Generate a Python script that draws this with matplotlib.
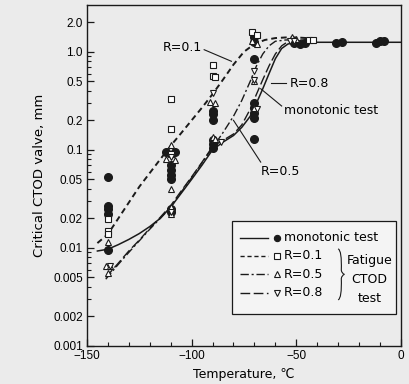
import matplotlib
matplotlib.use("Agg")
import matplotlib.pyplot as plt
from matplotlib.path import Path
from matplotlib.patches import PathPatch, Rectangle
from matplotlib.ticker import FixedLocator, FixedFormatter, NullFormatter, MultipleLocator

# ---------------- data ----------------
# monotonic test (filled circles)
mono_T = [-140, -140, -140, -140, -140,
          -112, -108, -110, -110, -110, -110, -110, -110,
          -90, -90, -90, -90, -90, -90,
          -70, -70, -70, -70, -70, -70, -70, -70,
          -51, -48, -46, -31, -28, -12, -10, -8]
mono_V = [0.053, 0.027, 0.025, 0.022, 0.0095,
          0.095, 0.095, 0.07, 0.062, 0.055, 0.05, 0.025, 0.023,
          0.25, 0.23, 0.20, 0.125, 0.115, 0.105,
          1.4, 1.25, 0.85, 0.30, 0.27, 0.24, 0.21, 0.13,
          1.22, 1.2, 1.22, 1.22, 1.25, 1.22, 1.28, 1.3]
# R=0.1 (open squares)
r01_T = [-140, -140, -140, -110, -110, -110, -90, -90, -89, -71, -69, -44, -42]
r01_V = [0.0195, 0.0148, 0.014, 0.33, 0.165, 0.09, 0.74, 0.57, 0.55, 1.6, 1.5, 1.32, 1.32]
# R=0.5 (open triangles)
r05_T = [-140, -141, -139, -140, -110, -112, -108, -110, -110, -110,
         -91, -89, -90, -89, -71, -69, -70, -70, -52, -50]
r05_V = [0.0115, 0.0066, 0.0066, 0.0055, 0.112, 0.08, 0.078, 0.04, 0.026, 0.022,
         0.31, 0.30, 0.136, 0.13, 1.3, 1.2, 0.5, 0.27, 1.4, 1.35]
# R=0.8 (open inverted triangles)
r08_T = [-139, -110, -110, -90, -86, -70, -70, -69, -53, -51]
r08_V = [0.0066, 0.085, 0.023, 0.38, 0.12, 0.63, 0.52, 0.26, 1.3, 1.3]

# fitted curves
mono_curve_T = [-145, -140, -135, -130, -125, -120, -115, -110, -105, -100, -95, -90, -85, -80,
                -76, -72, -69, -66, -63, -60, -57, -54, -51, -48, 0]
mono_curve_V = [0.0093, 0.0097, 0.0108, 0.0122, 0.014, 0.0165, 0.02, 0.026, 0.036, 0.05, 0.07,
                0.1, 0.12, 0.14, 0.17, 0.22, 0.3, 0.42, 0.6, 0.85, 1.08, 1.2, 1.24, 1.25, 1.25]
r01_curve_T = [-145, -140, -135, -130, -125, -120, -115, -110, -105, -100, -95, -90, -85, -80,
               -75, -70, -65, -60, -55, -50, -45, -42]
r01_curve_V = [0.0112, 0.0138, 0.02, 0.029, 0.042, 0.058, 0.08, 0.11, 0.148, 0.2, 0.27, 0.37,
               0.52, 0.74, 1.0, 1.2, 1.32, 1.38, 1.4, 1.4, 1.38, 1.36]
r05_curve_T = [-141, -135, -130, -125, -120, -115, -110, -105, -100, -95, -90, -85, -80, -76,
               -72, -69, -66, -63, -60, -55, -50, -42]
r05_curve_V = [0.0048, 0.0068, 0.009, 0.0118, 0.0155, 0.02, 0.026, 0.037, 0.052, 0.074, 0.105,
               0.15, 0.22, 0.32, 0.5, 0.72, 0.95, 1.15, 1.28, 1.32, 1.32, 1.32]
r08_curve_T = [-141, -135, -130, -125, -120, -115, -110, -105, -100, -95, -90, -85, -80, -76,
               -72, -69, -66, -63, -60, -57, -54, -50, -42]
r08_curve_V = [0.005, 0.007, 0.0093, 0.012, 0.0158, 0.0205, 0.027, 0.038, 0.053, 0.075, 0.108,
               0.125, 0.145, 0.18, 0.26, 0.37, 0.52, 0.72, 0.95, 1.15, 1.27, 1.3, 1.3]

y_major = [0.001, 0.002, 0.005, 0.01, 0.02, 0.05, 0.1, 0.2, 0.5, 1.0, 2.0]
y_labels = ["0.001", "0.002", "0.005", "0.01", "0.02", "0.05", "0.1", "0.2", "0.5", "1.0", "2.0"]
x_major = [-150, -100, -50, 0]
x_labels = ["\u2212150", "\u2212100", "\u221250", "0"]

# ---------------- figure ----------------
bg = "#ebebeb"
fig = plt.figure(figsize=(4.1, 3.84), dpi=100)
fig.patch.set_facecolor(bg)
ax = fig.add_axes([0.212, 0.099, 0.766, 0.888])
ax.set_facecolor(bg)
ax.set_yscale("log")
ax.set_xlim(-150, 0)
ax.set_ylim(0.001, 3.0)

k = "#1a1a1a"
ax.plot(mono_curve_T, mono_curve_V, color=k, lw=1.1, ls="-")
ax.plot(r01_curve_T, r01_curve_V, color=k, lw=1.4, ls=(0, (3, 2)))
ax.plot(r05_curve_T, r05_curve_V, color=k, lw=1.0, ls=(0, (6, 2, 1.5, 2)))
ax.plot(r08_curve_T, r08_curve_V, color=k, lw=1.0, ls=(0, (7, 2.5)))

ax.plot(mono_T, mono_V, ls="none", marker="o", ms=5.5, mfc=k, mec=k)
ax.plot(r01_T, r01_V, ls="none", marker="s", ms=4.5, mfc="white", mec=k, mew=0.8)
ax.plot(r05_T, r05_V, ls="none", marker="^", ms=5, mfc="white", mec=k, mew=0.8)
ax.plot(r08_T, r08_V, ls="none", marker="v", ms=5, mfc="white", mec=k, mew=0.8)

# ticks
ax.yaxis.set_major_locator(FixedLocator(y_major))
ax.yaxis.set_major_formatter(FixedFormatter(y_labels))
minors = []
for d in [0.001, 0.01, 0.1, 1.0]:
    for m in [3, 4, 6, 7, 8, 9]:
        if d * m < 3.0:
            minors.append(d * m)
ax.yaxis.set_minor_locator(FixedLocator(minors))
ax.yaxis.set_minor_formatter(NullFormatter())
ax.xaxis.set_major_locator(FixedLocator(x_major))
ax.xaxis.set_major_formatter(FixedFormatter(x_labels))
ax.xaxis.set_minor_locator(MultipleLocator(10))
ax.tick_params(which="both", direction="in", top=False, right=False, color=k)
ax.tick_params(which="major", length=5, width=0.9, labelsize=8.5, pad=3)
ax.tick_params(which="minor", length=3, width=0.8)
for lab in ax.get_xticklabels() + ax.get_yticklabels():
    lab.set_fontfamily("Liberation Sans")
for s in ax.spines.values():
    s.set_linewidth(1.0)
    s.set_color(k)

fam = ["DejaVu Sans", "Noto Sans CJK JP"]
fs = 9
ax.set_ylabel("Critical CTOD valve, mm", fontsize=9.5, family=fam, labelpad=5)
ax.set_xlabel("Temperature, \u2103", fontsize=9, family=fam, labelpad=4)

# annotations
ax.text(-95, 1.1, "R=0.1", fontsize=fs, family=fam, ha="right", va="center")
ax.plot([-94, -81], [1.05, 0.8], color=k, lw=0.8)
ax.text(-53, 0.48, "R=0.8", fontsize=fs, family=fam, ha="left", va="center")
ax.plot([-62, -55], [0.48, 0.48], color=k, lw=0.8)
ax.text(-56, 0.25, "monotonic test", fontsize=fs, family=fam, ha="left", va="center")
ax.plot([-67, -57], [0.42, 0.28], color=k, lw=0.8)
ax.text(-67, 0.06, "R=0.5", fontsize=fs, family=fam, ha="left", va="center")
ax.plot([-67, -80], [0.075, 0.2], color=k, lw=0.8)

# legend box (axes fraction)
tr = ax.transAxes
ax.add_patch(Rectangle((0.463, 0.095), 0.522, 0.272, transform=tr, fill=True,
                       facecolor="#f4f4f4", edgecolor=k, lw=0.9, zorder=5))
rows = [0.318, 0.264, 0.21, 0.156]
styles = ["-", (0, (3, 2)), (0, (6, 2, 1.5, 2)), (0, (7, 2.5))]
mk = ["o", "s", "^", "v"]
names = ["monotonic test", "R=0.1", "R=0.5", "R=0.8"]
for y, st, m, nm in zip(rows, styles, mk, names):
    ax.plot([0.487, 0.575], [y, y], transform=tr, color=k, lw=1.0, ls=st, zorder=6, clip_on=False)
    ax.plot([0.605], [y], transform=tr, ls="none", marker=m, ms=4 if m != "o" else 4.5,
            mfc=k if m == "o" else "white", mec=k, mew=0.8, zorder=6, clip_on=False)
    ax.text(0.628, y, nm, transform=tr, fontsize=fs, family=fam, va="center", ha="left", zorder=7)
# brace
bx, y0, y1 = 0.80, 0.135, 0.285
ym = (y0 + y1) / 2
p1 = Path([(bx, y1), (bx + 0.012, y1 - 0.005), (bx + 0.010, ym + 0.012),
           (bx + 0.010, ym + 0.012), (bx + 0.012, ym + 0.002), (bx + 0.02, ym)],
          [Path.MOVETO, Path.CURVE3, Path.CURVE3, Path.LINETO, Path.CURVE3, Path.CURVE3])
p2 = Path([(bx, y0), (bx + 0.012, y0 + 0.005), (bx + 0.010, ym - 0.012),
           (bx + 0.010, ym - 0.012), (bx + 0.012, ym - 0.002), (bx + 0.02, ym)],
          [Path.MOVETO, Path.CURVE3, Path.CURVE3, Path.LINETO, Path.CURVE3, Path.CURVE3])
for p in (p1, p2):
    ax.add_patch(PathPatch(p, transform=tr, fill=False, lw=0.8, edgecolor=k, zorder=7))
ax.text(0.9, 0.25, "Fatigue", transform=tr, fontsize=fs, family=fam, ha="center", va="center", zorder=7)
ax.text(0.9, 0.195, "CTOD", transform=tr, fontsize=fs, family=fam, ha="center", va="center", zorder=7)
ax.text(0.9, 0.14, "test", transform=tr, fontsize=fs, family=fam, ha="center", va="center", zorder=7)

fig.savefig("out.png", dpi=100, facecolor=bg)
